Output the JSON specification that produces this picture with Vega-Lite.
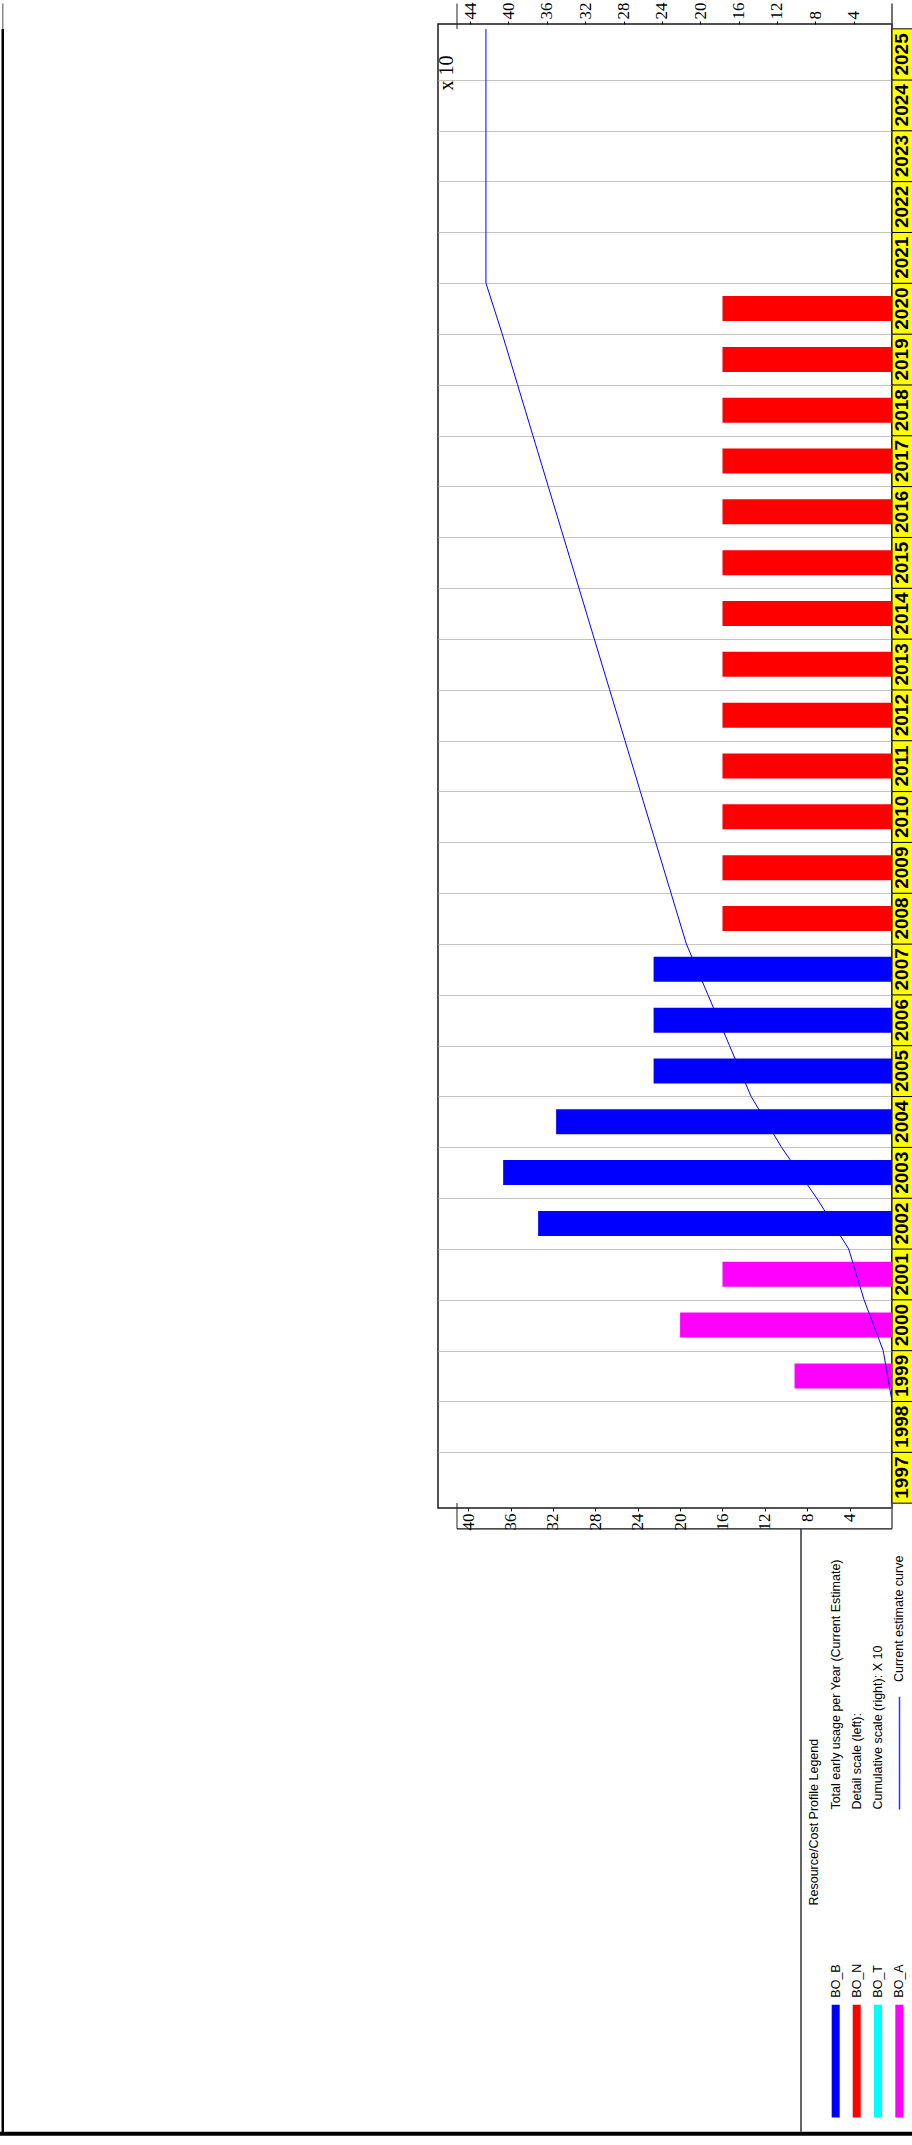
{
  "$schema": "https://vega.github.io/schema/vega-lite/v6.json",
  "width": 454,
  "height": 1484,
  "autosize": {"type": "none"},
  "padding": {"left": 438, "top": 24, "right": 20, "bottom": 637},
  "background": "white",
  "config": {
    "view": {"stroke": "#1a1a1a", "strokeWidth": 1.5},
    "font": "Liberation Sans"
  },
  "datasets": {
    "bars": [
      {"year": 1999, "resource": "BO_A", "value": 9.2},
      {"year": 2000, "resource": "BO_A", "value": 20},
      {"year": 2001, "resource": "BO_A", "value": 16},
      {"year": 2002, "resource": "BO_B", "value": 33.4},
      {"year": 2003, "resource": "BO_B", "value": 36.7},
      {"year": 2004, "resource": "BO_B", "value": 31.7},
      {"year": 2005, "resource": "BO_B", "value": 22.5},
      {"year": 2006, "resource": "BO_B", "value": 22.5},
      {"year": 2007, "resource": "BO_B", "value": 22.5},
      {"year": 2008, "resource": "BO_N", "value": 16},
      {"year": 2009, "resource": "BO_N", "value": 16},
      {"year": 2010, "resource": "BO_N", "value": 16},
      {"year": 2011, "resource": "BO_N", "value": 16},
      {"year": 2012, "resource": "BO_N", "value": 16},
      {"year": 2013, "resource": "BO_N", "value": 16},
      {"year": 2014, "resource": "BO_N", "value": 16},
      {"year": 2015, "resource": "BO_N", "value": 16},
      {"year": 2016, "resource": "BO_N", "value": 16},
      {"year": 2017, "resource": "BO_N", "value": 16},
      {"year": 2018, "resource": "BO_N", "value": 16},
      {"year": 2019, "resource": "BO_N", "value": 16},
      {"year": 2020, "resource": "BO_N", "value": 16}
    ],
    "years": [
      {"year": 1997}, {"year": 1998}, {"year": 1999}, {"year": 2000}, {"year": 2001},
      {"year": 2002}, {"year": 2003}, {"year": 2004}, {"year": 2005}, {"year": 2006},
      {"year": 2007}, {"year": 2008}, {"year": 2009}, {"year": 2010}, {"year": 2011},
      {"year": 2012}, {"year": 2013}, {"year": 2014}, {"year": 2015}, {"year": 2016},
      {"year": 2017}, {"year": 2018}, {"year": 2019}, {"year": 2020}, {"year": 2021},
      {"year": 2022}, {"year": 2023}, {"year": 2024}, {"year": 2025}
    ],
    "cumulative": [
      {"year_end": 1998.5, "cumulative_x10": 0},
      {"year_end": 1999.5, "cumulative_x10": 0.92},
      {"year_end": 2000.5, "cumulative_x10": 2.92},
      {"year_end": 2001.5, "cumulative_x10": 4.52},
      {"year_end": 2002.5, "cumulative_x10": 7.86},
      {"year_end": 2003.5, "cumulative_x10": 11.53},
      {"year_end": 2004.5, "cumulative_x10": 14.7},
      {"year_end": 2005.5, "cumulative_x10": 16.95},
      {"year_end": 2006.5, "cumulative_x10": 19.2},
      {"year_end": 2007.5, "cumulative_x10": 21.45},
      {"year_end": 2008.5, "cumulative_x10": 23.05},
      {"year_end": 2009.5, "cumulative_x10": 24.65},
      {"year_end": 2010.5, "cumulative_x10": 26.25},
      {"year_end": 2011.5, "cumulative_x10": 27.85},
      {"year_end": 2012.5, "cumulative_x10": 29.45},
      {"year_end": 2013.5, "cumulative_x10": 31.05},
      {"year_end": 2014.5, "cumulative_x10": 32.65},
      {"year_end": 2015.5, "cumulative_x10": 34.25},
      {"year_end": 2016.5, "cumulative_x10": 35.85},
      {"year_end": 2017.5, "cumulative_x10": 37.45},
      {"year_end": 2018.5, "cumulative_x10": 39.05},
      {"year_end": 2019.5, "cumulative_x10": 40.65},
      {"year_end": 2020.5, "cumulative_x10": 42.35},
      {"year_end": 2025.5, "cumulative_x10": 42.35}
    ]
  },
  "layer": [
    {
      "data": {"name": "years"},
      "mark": {"type": "bar", "orient": "horizontal", "size": 51.17, "fill": "#ffff00", "stroke": "#000000", "strokeWidth": 1},
      "encoding": {
        "y": {"field": "year", "type": "quantitative", "axis": null},
        "x": {"datum": -1.95, "scale": {"domain": [0, 42.85], "reverse": true, "nice": false, "zero": false}, "axis": null},
        "x2": {"datum": 0}
      }
    },
    {
      "data": {"name": "bars"},
      "mark": {"type": "bar", "orient": "horizontal", "size": 25},
      "encoding": {
        "y": {
          "field": "year", "type": "quantitative",
          "scale": {"domain": [1996.5, 2025.5], "nice": false, "zero": false},
          "axis": {
            "orient": "left",
            "values": [1997.5, 1998.5, 1999.5, 2000.5, 2001.5, 2002.5, 2003.5, 2004.5, 2005.5, 2006.5, 2007.5, 2008.5, 2009.5, 2010.5, 2011.5, 2012.5, 2013.5, 2014.5, 2015.5, 2016.5, 2017.5, 2018.5, 2019.5, 2020.5, 2021.5, 2022.5, 2023.5, 2024.5],
            "grid": true, "gridColor": "#c4c4c4", "gridWidth": 1, "gridOpacity": 1,
            "labels": false, "ticks": false, "domain": false, "title": null
          }
        },
        "x": {
          "field": "value", "type": "quantitative",
          "scale": {"domain": [0, 42.85], "reverse": true, "nice": false, "zero": false},
          "axis": {
            "orient": "bottom",
            "values": [4, 8, 12, 16, 20, 24, 28, 32, 36, 40],
            "labelAngle": 270, "labelAlign": "right", "labelBaseline": "middle",
            "labelFont": "Liberation Serif", "labelFontSize": 17, "labelColor": "#000000",
            "labelPadding": 2, "tickSize": 3, "tickColor": "#000000",
            "labelOverlap": false, "labelFlush": false,
            "domain": false, "grid": false, "title": null
          }
        },
        "color": {
          "field": "resource", "type": "nominal",
          "scale": {"domain": ["BO_B", "BO_N", "BO_T", "BO_A"], "range": ["#0000ff", "#ff0000", "#00ffff", "#ff00ff"]},
          "legend": null
        }
      }
    },
    {
      "data": {"name": "cumulative"},
      "mark": {"type": "line", "color": "#0000ff", "strokeWidth": 1},
      "encoding": {
        "x": {
          "field": "cumulative_x10", "type": "quantitative",
          "scale": {"domain": [0, 47.35], "reverse": true, "nice": false, "zero": false},
          "axis": {
            "orient": "top",
            "values": [4, 8, 12, 16, 20, 24, 28, 32, 36, 40, 44],
            "labelAngle": 270, "labelAlign": "left", "labelBaseline": "middle",
            "labelFont": "Liberation Serif", "labelFontSize": 17, "labelColor": "#000000",
            "labelPadding": 2, "tickSize": 3, "tickColor": "#000000",
            "labelOverlap": false, "labelFlush": false,
            "domain": false, "grid": false, "title": null
          }
        },
        "y": {"field": "year_end", "type": "quantitative", "axis": null},
        "order": {"field": "year_end", "type": "quantitative"}
      }
    },
    {
      "data": {"name": "years"},
      "mark": {"type": "text", "angle": 270, "align": "center", "baseline": "middle", "font": "Liberation Sans", "fontWeight": "bold", "fontSize": 19, "color": "#000000"},
      "encoding": {
        "y": {"field": "year", "type": "quantitative", "axis": null},
        "x": {"datum": -0.92, "scale": {"domain": [0, 42.85], "reverse": true, "nice": false, "zero": false}, "axis": null},
        "text": {"field": "year", "type": "nominal"}
      }
    },
    {
      "data": {"values": [{}]},
      "mark": {"type": "text", "text": "x 10", "angle": 270, "align": "left", "baseline": "alphabetic", "font": "Liberation Serif", "fontSize": 20, "color": "#000000"},
      "encoding": {"x": {"datum": 41.43, "scale": {"domain": [0, 42.85], "reverse": true, "nice": false, "zero": false}, "axis": null}, "y": {"datum": 2024.29, "axis": null}}
    },
    {
      "data": {"values": [{}]},
      "mark": {"type": "rule", "color": "#222222", "strokeWidth": 1},
      "encoding": {"x": {"datum": 41.057, "scale": {"domain": [0, 42.85], "reverse": true, "nice": false, "zero": false}, "axis": null}, "y": {"datum": 2026.0, "axis": null}, "y2": {"datum": 2025.5}}
    },
    {
      "data": {"values": [{}]},
      "mark": {"type": "rule", "color": "#444444", "strokeWidth": 1.5},
      "encoding": {"x": {"datum": 0, "scale": {"domain": [0, 42.85], "reverse": true, "nice": false, "zero": false}, "axis": null}, "y": {"datum": 2026.0, "axis": null}, "y2": {"datum": 2025.5}}
    },
    {
      "data": {"values": [{}]},
      "mark": {"type": "rule", "color": "#222222", "strokeWidth": 1},
      "encoding": {"x": {"datum": 41.057, "scale": {"domain": [0, 42.85], "reverse": true, "nice": false, "zero": false}, "axis": null}, "y": {"datum": 1996.5, "axis": null}, "y2": {"datum": 1995.992}}
    },
    {
      "data": {"values": [{}]},
      "mark": {"type": "rule", "color": "#555555", "strokeWidth": 1.5},
      "encoding": {"x": {"datum": 0, "scale": {"domain": [0, 42.85], "reverse": true, "nice": false, "zero": false}, "axis": null}, "y": {"datum": 1996.5, "axis": null}, "y2": {"datum": 1995.992}}
    },
    {
      "data": {"values": [{}]},
      "mark": {"type": "rule", "color": "#111111", "strokeWidth": 1.2},
      "encoding": {"x": {"datum": 41.057, "scale": {"domain": [0, 42.85], "reverse": true, "nice": false, "zero": false}, "axis": null}, "x2": {"datum": 0}, "y": {"datum": 1995.992, "axis": null}}
    },
    {
      "data": {"values": [{}]},
      "mark": {"type": "rule", "color": "#333333", "strokeWidth": 1.5},
      "encoding": {"x": {"datum": 8.589, "scale": {"domain": [0, 42.85], "reverse": true, "nice": false, "zero": false}, "axis": null}, "y": {"datum": 1995.992, "axis": null}, "y2": {"datum": 1984.13}}
    },
    {
      "data": {"values": [{}]},
      "mark": {"type": "text", "text": "Resource/Cost Profile Legend", "angle": 270, "align": "left", "baseline": "alphabetic", "font": "Liberation Sans", "fontSize": 12.5, "color": "#000000"},
      "encoding": {"x": {"datum": 6.956, "scale": {"domain": [0, 42.85], "reverse": true, "nice": false, "zero": false}, "axis": null}, "y": {"datum": 1988.58, "axis": null}}
    },
    {
      "data": {"values": [{}]},
      "mark": {"type": "text", "text": "Total early usage per Year (Current Estimate)", "angle": 270, "align": "left", "baseline": "alphabetic", "font": "Liberation Sans", "fontSize": 12.5, "color": "#000000"},
      "encoding": {"x": {"datum": 4.936, "scale": {"domain": [0, 42.85], "reverse": true, "nice": false, "zero": false}, "axis": null}, "y": {"datum": 1990.468, "axis": null}}
    },
    {
      "data": {"values": [{}]},
      "mark": {"type": "text", "text": "Detail scale (left):", "angle": 270, "align": "left", "baseline": "alphabetic", "font": "Liberation Sans", "fontSize": 12.5, "color": "#000000"},
      "encoding": {"x": {"datum": 2.954, "scale": {"domain": [0, 42.85], "reverse": true, "nice": false, "zero": false}, "axis": null}, "y": {"datum": 1990.468, "axis": null}}
    },
    {
      "data": {"values": [{}]},
      "mark": {"type": "text", "text": "Cumulative scale (right): X 10", "angle": 270, "align": "left", "baseline": "alphabetic", "font": "Liberation Sans", "fontSize": 12.5, "color": "#000000"},
      "encoding": {"x": {"datum": 0.972, "scale": {"domain": [0, 42.85], "reverse": true, "nice": false, "zero": false}, "axis": null}, "y": {"datum": 1990.468, "axis": null}}
    },
    {
      "data": {"values": [{}]},
      "mark": {"type": "text", "text": "Current estimate curve", "angle": 270, "align": "left", "baseline": "alphabetic", "font": "Liberation Sans", "fontSize": 12.5, "color": "#000000"},
      "encoding": {"x": {"datum": -1.038, "scale": {"domain": [0, 42.85], "reverse": true, "nice": false, "zero": false}, "axis": null}, "y": {"datum": 1992.977, "axis": null}}
    },
    {
      "data": {"values": [{}]},
      "mark": {"type": "rule", "color": "#3333ff", "strokeWidth": 1.5},
      "encoding": {"x": {"datum": -0.708, "scale": {"domain": [0, 42.85], "reverse": true, "nice": false, "zero": false}, "axis": null}, "y": {"datum": 1992.689, "axis": null}, "y2": {"datum": 1990.468}}
    },
    {
      "data": {"values": [{}]},
      "mark": {"type": "rule", "color": "#0000ff", "strokeWidth": 8, "strokeCap": "butt"},
      "encoding": {"x": {"datum": 5.314, "scale": {"domain": [0, 42.85], "reverse": true, "nice": false, "zero": false}, "axis": null}, "y": {"datum": 1986.626, "axis": null}, "y2": {"datum": 1984.41}}
    },
    {
      "data": {"values": [{}]},
      "mark": {"type": "rule", "color": "#ff0000", "strokeWidth": 8, "strokeCap": "butt"},
      "encoding": {"x": {"datum": 3.332, "scale": {"domain": [0, 42.85], "reverse": true, "nice": false, "zero": false}, "axis": null}, "y": {"datum": 1986.626, "axis": null}, "y2": {"datum": 1984.41}}
    },
    {
      "data": {"values": [{}]},
      "mark": {"type": "rule", "color": "#00ffff", "strokeWidth": 8, "strokeCap": "butt"},
      "encoding": {"x": {"datum": 1.321, "scale": {"domain": [0, 42.85], "reverse": true, "nice": false, "zero": false}, "axis": null}, "y": {"datum": 1986.626, "axis": null}, "y2": {"datum": 1984.41}}
    },
    {
      "data": {"values": [{}]},
      "mark": {"type": "rule", "color": "#ff00ff", "strokeWidth": 8, "strokeCap": "butt"},
      "encoding": {"x": {"datum": -0.689, "scale": {"domain": [0, 42.85], "reverse": true, "nice": false, "zero": false}, "axis": null}, "y": {"datum": 1986.626, "axis": null}, "y2": {"datum": 1984.41}}
    },
    {
      "data": {"values": [{}]},
      "mark": {"type": "text", "text": "BO_B", "angle": 270, "align": "left", "baseline": "alphabetic", "font": "Liberation Sans", "fontSize": 12.5, "color": "#000000"},
      "encoding": {"x": {"datum": 4.936, "scale": {"domain": [0, 42.85], "reverse": true, "nice": false, "zero": false}, "axis": null}, "y": {"datum": 1986.768, "axis": null}}
    },
    {
      "data": {"values": [{}]},
      "mark": {"type": "text", "text": "BO_N", "angle": 270, "align": "left", "baseline": "alphabetic", "font": "Liberation Sans", "fontSize": 12.5, "color": "#000000"},
      "encoding": {"x": {"datum": 2.954, "scale": {"domain": [0, 42.85], "reverse": true, "nice": false, "zero": false}, "axis": null}, "y": {"datum": 1986.768, "axis": null}}
    },
    {
      "data": {"values": [{}]},
      "mark": {"type": "text", "text": "BO_T", "angle": 270, "align": "left", "baseline": "alphabetic", "font": "Liberation Sans", "fontSize": 12.5, "color": "#000000"},
      "encoding": {"x": {"datum": 0.972, "scale": {"domain": [0, 42.85], "reverse": true, "nice": false, "zero": false}, "axis": null}, "y": {"datum": 1986.768, "axis": null}}
    },
    {
      "data": {"values": [{}]},
      "mark": {"type": "text", "text": "BO_A", "angle": 270, "align": "left", "baseline": "alphabetic", "font": "Liberation Sans", "fontSize": 12.5, "color": "#000000"},
      "encoding": {"x": {"datum": -1.038, "scale": {"domain": [0, 42.85], "reverse": true, "nice": false, "zero": false}, "axis": null}, "y": {"datum": 1986.768, "axis": null}}
    },
    {
      "data": {"values": [{}]},
      "mark": {"type": "rule", "color": "#000000", "strokeWidth": 4},
      "encoding": {"x": {"datum": 84.3, "scale": {"domain": [0, 42.85], "reverse": true, "nice": false, "zero": false}, "axis": null}, "x2": {"datum": -2.0}, "y": {"datum": 1984.09, "axis": null}}
    },
    {
      "data": {"values": [{}]},
      "mark": {"type": "rule", "color": "#000000", "strokeWidth": 2.5},
      "encoding": {"x": {"datum": 83.93, "scale": {"domain": [0, 42.85], "reverse": true, "nice": false, "zero": false}, "axis": null}, "y": {"datum": 2025.5, "axis": null}, "y2": {"datum": 1984.1}}
    },
    {
      "data": {"values": [{}]},
      "mark": {"type": "rule", "color": "#888888", "strokeWidth": 1.5},
      "encoding": {"x": {"datum": 83.93, "scale": {"domain": [0, 42.85], "reverse": true, "nice": false, "zero": false}, "axis": null}, "y": {"datum": 2026.0, "axis": null}, "y2": {"datum": 2025.5}}
    }
  ],
  "resolve": {"scale": {"x": "independent"}, "axis": {"x": "independent", "y": "independent"}}
}
